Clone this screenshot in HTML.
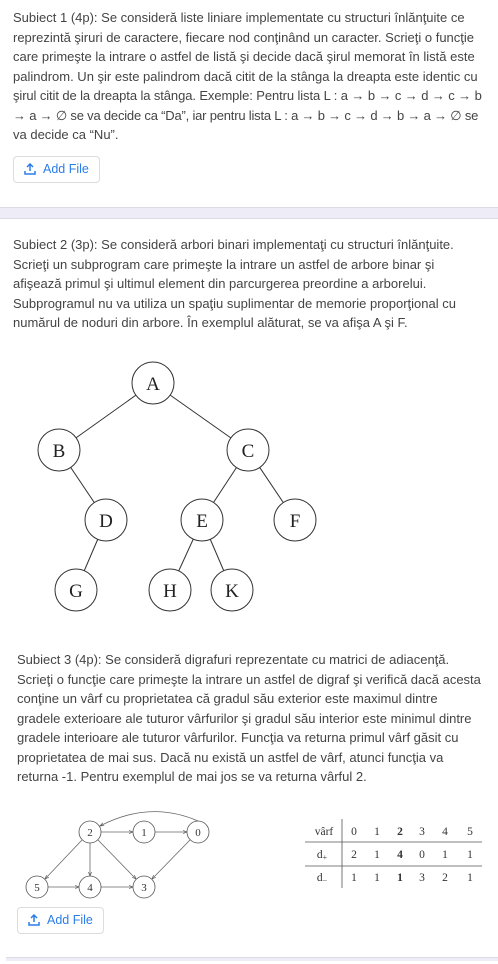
<!DOCTYPE html>
<html><head><meta charset="utf-8"><style>
body{margin:0;width:498px;height:964px;background:#fff;position:relative;overflow:hidden;font-family:"Liberation Sans",sans-serif;color:#444;}
.t{position:absolute;font-size:13px;line-height:19.5px;white-space:nowrap;}
.btn{position:absolute;width:85px;height:26px;border:1px solid #dcdcdc;border-radius:4px;color:#2b7de9;font-size:12.5px;box-sizing:border-box;}
.btn span{position:absolute;left:29px;top:5px;}
.btn svg{position:absolute;left:10px;top:6px;}
</style></head><body>
<div class="t" style="left:13px;top:8px;">Subiect 1 (4p): Se consideră liste liniare implementate cu structuri înlănţuite ce<br>reprezintă şiruri de caractere, fiecare nod conţinând un caracter. Scrieţi o funcţie<br>care primeşte la intrare o astfel de listă şi decide dacă şirul memorat în listă este<br>palindrom. Un şir este palindrom dacă citit de la stânga la dreapta este identic cu<br><span style="letter-spacing:-0.1px">şirul citit de la dreapta la stânga. Exemple: Pentru lista L : a → b → c → d → c → b</span><br><span style="letter-spacing:-0.2px">→ a → ∅ se va decide ca “Da”, iar pentru lista L : a → b → c → d → b → a → ∅ se</span><br>va decide ca “Nu”.</div>
<div class="btn" style="left:13px;top:156px;width:87px;height:27px;"><svg width="12" height="12" viewBox="0 0 12 12"><path d="M6 1V8M3 4L6 1L9 4M1 8V11H11V8" stroke="#2b7de9" stroke-width="1.5" fill="none"/></svg><span>Add File</span></div>
<div style="position:absolute;left:0;top:207px;width:498px;height:10px;background:#eeedf7;border-top:1px solid #dcdce6;border-bottom:1px solid #dcdce6;"></div>
<div class="t" style="left:13px;top:235px;">Subiect 2 (3p): Se consideră arbori binari implementaţi cu structuri înlănţuite.<br>Scrieţi un subprogram care primeşte la intrare un astfel de arbore binar şi<br>afişează primul şi ultimul element din parcurgerea preordine a arborelui.<br>Subprogramul nu va utiliza un spaţiu suplimentar de memorie proporţional cu<br>numărul de noduri din arbore. În exemplul alăturat, se va afişa A şi F.</div>
<svg style="position:absolute;left:0;top:0" width="498" height="964">
<g stroke="#333" stroke-width="1" fill="none">
<line x1="153" y1="383" x2="59" y2="450"/><line x1="153" y1="383" x2="248" y2="450"/>
<line x1="59" y1="450" x2="106" y2="520"/><line x1="248" y1="450" x2="202" y2="520"/><line x1="248" y1="450" x2="295" y2="520"/>
<line x1="106" y1="520" x2="76" y2="590"/><line x1="202" y1="520" x2="170" y2="590"/><line x1="202" y1="520" x2="232" y2="590"/>
</g>
<g stroke="#333" stroke-width="1" fill="#fff">
<circle cx="153" cy="383" r="21"/><circle cx="59" cy="450" r="21"/><circle cx="248" cy="450" r="21"/>
<circle cx="106" cy="520" r="21"/><circle cx="202" cy="520" r="21"/><circle cx="295" cy="520" r="21"/>
<circle cx="76" cy="590" r="21"/><circle cx="170" cy="590" r="21"/><circle cx="232" cy="590" r="21"/>
</g>
<g font-family="Liberation Serif,serif" font-size="19" fill="#222" text-anchor="middle">
<text x="153" y="390">A</text><text x="59" y="457">B</text><text x="248" y="457">C</text>
<text x="106" y="527">D</text><text x="202" y="527">E</text><text x="295" y="527">F</text>
<text x="76" y="597">G</text><text x="170" y="597">H</text><text x="232" y="597">K</text>
</g>
<defs><marker id="ar" markerWidth="6" markerHeight="6" refX="5" refY="3" orient="auto"><path d="M0,1 L5,3 L0,5" fill="none" stroke="#555" stroke-width="0.8"/></marker></defs>
<g stroke="#666" stroke-width="0.8" fill="none" marker-end="url(#ar)">
<path d="M198 821 Q150 800 100 826"/>
<line x1="101" y1="832" x2="133" y2="832"/><line x1="155" y1="832" x2="187" y2="832"/>
<line x1="82" y1="840" x2="45" y2="879"/><line x1="90" y1="843" x2="90" y2="876"/>
<line x1="98" y1="840" x2="136" y2="879"/><line x1="190" y1="840" x2="152" y2="879"/>
<line x1="48" y1="887" x2="79" y2="887"/><line x1="101" y1="887" x2="133" y2="887"/>
</g>
<g stroke="#555" stroke-width="0.8" fill="#fff">
<circle cx="90" cy="832" r="11"/><circle cx="144" cy="832" r="11"/><circle cx="198" cy="832" r="11"/>
<circle cx="37" cy="887" r="11"/><circle cx="90" cy="887" r="11"/><circle cx="144" cy="887" r="11"/>
</g>
<g font-family="Liberation Serif,serif" font-size="11" fill="#333" text-anchor="middle">
<text x="90" y="836">2</text><text x="144" y="836">1</text><text x="198" y="836">0</text>
<text x="37" y="891">5</text><text x="90" y="891">4</text><text x="144" y="891">3</text>
</g>
<g stroke="#555" stroke-width="0.8"><line x1="342" y1="819" x2="342" y2="888"/><line x1="305" y1="842" x2="482" y2="842"/><line x1="305" y1="866" x2="482" y2="866"/></g>
<g font-family="Liberation Serif,serif" font-size="11.5" fill="#333" text-anchor="middle">
<text x="324" y="835">vârf</text><text x="354" y="835">0</text><text x="377" y="835">1</text><text x="400" y="835" font-weight="bold">2</text><text x="422" y="835">3</text><text x="445" y="835">4</text><text x="470" y="835">5</text>
<text x="322" y="858">d<tspan font-size="8" dy="2">+</tspan></text><text x="354" y="858">2</text><text x="377" y="858">1</text><text x="400" y="858" font-weight="bold">4</text><text x="422" y="858">0</text><text x="445" y="858">1</text><text x="470" y="858">1</text>
<text x="322" y="881">d<tspan font-size="8" dy="2">−</tspan></text><text x="354" y="881">1</text><text x="377" y="881">1</text><text x="400" y="881" font-weight="bold">1</text><text x="422" y="881">3</text><text x="445" y="881">2</text><text x="470" y="881">1</text>
</g>
</svg>
<div class="t" style="left:17px;top:650px;">Subiect 3 (4p): Se consideră digrafuri reprezentate cu matrici de adiacenţă.<br>Scrieţi o funcţie care primeşte la intrare un astfel de digraf şi verifică dacă acesta<br>conţine un vârf cu proprietatea că gradul său exterior este maximul dintre<br>gradele exterioare ale tuturor vârfurilor şi gradul său interior este minimul dintre<br>gradele interioare ale tuturor vârfurilor. Funcţia va returna primul vârf găsit cu<br>proprietatea de mai sus. Dacă nu există un astfel de vârf, atunci funcţia va<br>returna -1. Pentru exemplul de mai jos se va returna vârful 2.</div>
<div class="btn" style="left:17px;top:907px;width:87px;height:27px;"><svg width="12" height="12" viewBox="0 0 12 12"><path d="M6 1V8M3 4L6 1L9 4M1 8V11H11V8" stroke="#2b7de9" stroke-width="1.5" fill="none"/></svg><span>Add File</span></div>
<div style="position:absolute;left:6px;top:957px;width:492px;height:3px;background:#eeedf7;border-top:1px solid #dcdce6;"></div>
</body></html>
